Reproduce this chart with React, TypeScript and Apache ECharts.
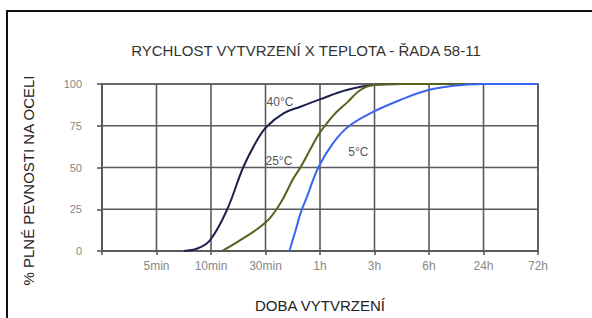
import React, { useEffect, useRef } from "react";
import * as echarts from "echarts";

const xTickLabels = ["", "5min", "10min", "30min", "1h", "3h", "6h", "24h", "72h"];
const xGridValues = [0, 1, 2, 3, 4, 5, 6, 7, 8];
const yTicks = [0, 25, 50, 75, 100];

const curve40: [number, number][] = [
  [1.5, 0], [1.75, 1.5], [1.98, 6.4], [2.29, 24.4], [2.59, 50], [2.84, 66],
  [3.02, 74.4], [3.33, 82.4], [3.64, 86.4], [4.0, 90.8], [4.49, 96.4],
  [4.98, 99.4], [5.5, 100], [8, 100],
];
const curve25: [number, number][] = [
  [2.2, 0], [2.53, 6.4], [3.0, 17], [3.27, 28.4], [3.51, 43.4], [3.64, 50],
  [3.88, 64.4], [4.0, 71], [4.25, 81.4], [4.5, 89], [4.74, 96.4],
  [4.98, 99.4], [5.5, 100], [8, 100],
];
const curve5: [number, number][] = [
  [3.44, 0], [3.57, 14.4], [3.64, 22.4], [3.76, 32.4], [3.97, 50], [4.25, 65],
  [4.54, 75], [4.98, 83.4], [5.47, 90.4], [5.99, 96.4], [6.45, 99], [7, 100],
  [8, 100],
];
const curveLabels: [number, number, string][] = [
  [3.02, 89.5, "40°C"],
  [3.0, 53.8, "25°C"],
  [4.52, 59.2, "5°C"],
];

const FONT = "'Liberation Sans', Arial, sans-serif";
const GRID_COLOR = "#5a5a5a";

export default function App() {
  const ref = useRef<HTMLDivElement>(null);
  useEffect(() => {
    if (!ref.current) return;
    const chart = echarts.init(ref.current, null, { renderer: "svg" });
    const lineSeries = (name: string, data: [number, number][], color: string) => ({
      name,
      type: "line",
      data,
      smooth: 0.4,
      showSymbol: false,
      symbol: "none",
      lineStyle: { color, width: 2 },
      z: 3,
    });
    const xMin = xGridValues[0];
    const xMax = xGridValues[xGridValues.length - 1];
    const yMin = yTicks[0];
    const yMax = yTicks[yTicks.length - 1];

    // Grid drawn as one zig-zag polyline whose connecting legs run along the plot frame.
    const gridPath: [number, number][] = [];
    xGridValues.forEach((v, i) => {
      if (i % 2 === 0) gridPath.push([v, yMin], [v, yMax]);
      else gridPath.push([v, yMax], [v, yMin]);
    });
    const lastX = gridPath[gridPath.length - 1];
    const startY = lastX[1] === yMax ? [...yTicks].reverse() : [...yTicks];
    startY.forEach((v, i) => {
      if (i % 2 === 0) gridPath.push([xMax, v], [xMin, v]);
      else gridPath.push([xMin, v], [xMax, v]);
    });

    chart.setOption({
      animation: false,
      backgroundColor: "#ffffff",
      title: {
        text: "RYCHLOST VYTVRZENÍ X TEPLOTA - ŘADA 58-11",
        left: 301,
        top: 38,
        textAlign: "center",
        textStyle: { fontFamily: FONT, fontSize: 15, fontWeight: "normal", color: "#333" },
      },
      grid: { left: 102, right: 54, top: 84, bottom: 67, show: true, borderColor: GRID_COLOR, borderWidth: 1.6 },
      xAxis: {
        type: "value",
        min: xMin,
        max: xMax,
        interval: 1,
        name: "DOBA VYTVRZENÍ",
        nameLocation: "middle",
        nameGap: 47,
        nameTextStyle: { fontFamily: FONT, fontSize: 15, color: "#222" },
        axisLine: { show: true, onZero: false, lineStyle: { color: GRID_COLOR, width: 1.6 } },
        axisTick: { show: true, length: 4, lineStyle: { color: GRID_COLOR, width: 1.6 } },
        axisLabel: {
          fontFamily: FONT,
          fontSize: 12,
          color: "#888",
          margin: 9,
          formatter: (v: number) => xTickLabels[Math.round(v)] ?? "",
        },
        splitLine: { show: false },
      },
      yAxis: {
        type: "value",
        min: yMin,
        max: yMax,
        interval: 25,
        name: "% PLNÉ PEVNOSTI NA OCELI",
        nameLocation: "middle",
        nameGap: 66,
        nameTextStyle: { fontFamily: FONT, fontSize: 15, color: "#222", padding: [0, 26, 0, 0] },
        axisLine: { show: true, onZero: false, lineStyle: { color: GRID_COLOR, width: 1.6 } },
        axisTick: { show: true, length: 5, lineStyle: { color: GRID_COLOR, width: 1.6 } },
        axisLabel: { fontFamily: FONT, fontSize: 11, color: "#888", margin: 20 },
        splitLine: { show: false },
      },
      series: [
        {
          name: "grid",
          type: "line",
          data: gridPath,
          smooth: false,
          showSymbol: false,
          symbol: "none",
          silent: true,
          lineStyle: { color: GRID_COLOR, width: 1.6 },
          z: 1,
        },
        lineSeries("40°C", curve40, "#1c2150"),
        lineSeries("25°C", curve25, "#56621f"),
        lineSeries("5°C", curve5, "#3a64f2"),
        {
          type: "scatter",
          data: curveLabels,
          symbolSize: 0,
          z: 5,
          label: {
            show: true,
            position: "inside",
            align: "left",
            verticalAlign: "middle",
            fontFamily: FONT,
            fontSize: 12,
            color: "#222",
            formatter: (p: any) => p.data[2],
          },
        },
      ],
      graphic: [
        {
          type: "rect",
          shape: { x: 7, y: 11, width: 640, height: 360 },
          style: { fill: "none", stroke: "#111", lineWidth: 2 },
          silent: true,
          z: 100,
        },
      ],
    });
    return () => chart.dispose();
  }, []);
  return (
    <div
      ref={ref}
      style={{ position: "fixed", left: 0, top: 0, width: 592, height: 318, background: "#fff" }}
    />
  );
}
